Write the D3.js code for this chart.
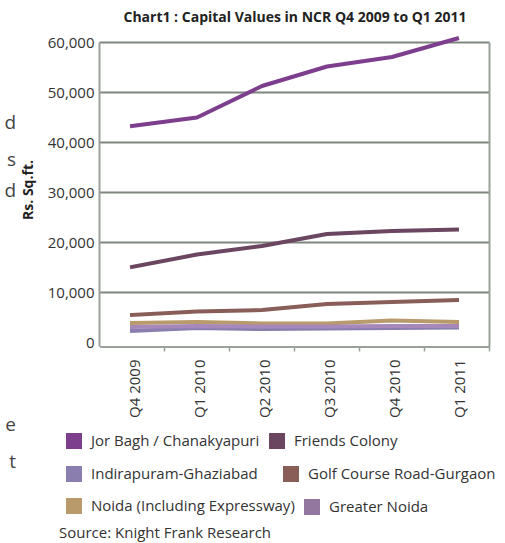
<!DOCTYPE html>
<html>
<head>
<meta charset="utf-8">
<script src="https://cdn.jsdelivr.net/npm/d3@7"></script>
<style>
  html, body { margin: 0; padding: 0; background: #fff; }
  svg { display: block; }
</style>
</head>
<body>
<svg id="chart" width="505" height="543"></svg>
<script>
const categories = ["Q4 2009", "Q1 2010", "Q2 2010", "Q3 2010", "Q4 2010", "Q1 2011"];
const seriesNames = ["Jor Bagh / Chanakyapuri", "Friends Colony", "Indirapuram-Ghaziabad", "Golf Course Road-Gurgaon", "Noida (Including Expressway)", "Greater Noida"];
const jorBagh = [43300, 45000, 51300, 55200, 57100, 60800];
const friendsColony = [15100, 17600, 19300, 21700, 22300, 22600];
const indirapuram = [2300, 2900, 2700, 2800, 2900, 3000];
const golfCourse = [5500, 6200, 6500, 7700, 8100, 8500];
const noida = [3900, 4100, 3800, 3800, 4400, 4100];
const greaterNoida = [3100, 3300, 3200, 3200, 3300, 3300];
const yTicks = [0, 10000, 20000, 30000, 40000, 50000, 60000];
const colors = ["#7d3e8e", "#6a4660", "#8a7eae", "#8a5e58", "#b99a6b", "#a688bb"];
const legendColors = ["#7d3e8e", "#6a4660", "#8a7eae", "#8a5e58", "#b99a6b", "#93779f"];
const seriesValues = [jorBagh, friendsColony, indirapuram, golfCourse, noida, greaterNoida];

(function () {
const svg = d3.select("#chart");
const font = "'Open Sans', 'Noto Sans', sans-serif";
const pL = 99.5, pR = 489.5, pT = 42.5, pB = 342.5;

const x = d3.scaleBand().domain(categories).range([pL, pR]);
const y = d3.scaleLinear().domain([0, 60000]).range([pB, pT]);

// page fragments at the left
const frag = [["d", 129], ["s", 166], ["d", 197], ["e", 431], ["t", 468]];
svg.selectAll("text.frag").data(frag).join("text")
  .attr("class", "frag")
  .attr("x", 16).attr("y", d => d[1])
  .attr("text-anchor", "end")
  .attr("font-family", font).attr("font-size", 19).attr("fill", "#444")
  .text(d => d[0]);

// title
svg.append("text")
  .attr("x", 295).attr("y", 22)
  .attr("text-anchor", "middle")
  .attr("font-family", font).attr("font-weight", "bold").attr("font-size", 14)
  .attr("fill", "#222")
  .text("Chart1 : Capital Values in NCR Q4 2009 to Q1 2011");

// gridlines
svg.append("g").selectAll("line").data(yTicks.filter(d => d > 0)).join("line")
  .attr("x1", pL).attr("x2", pR)
  .attr("y1", d => y(d)).attr("y2", d => y(d))
  .attr("stroke", "#7e867e").attr("stroke-width", 2);

// right border
svg.append("line").attr("x1", pR).attr("x2", pR).attr("y1", pT).attr("y2", pB + 4)
  .attr("stroke", "#9aa09a").attr("stroke-width", 2);

// y axis
const yAxis = svg.append("g").attr("transform", `translate(${pL},0)`)
  .call(d3.axisLeft(y).tickValues(yTicks).tickSize(0).tickPadding(5).tickFormat(d3.format(",")));
yAxis.select(".domain").remove();
yAxis.append("line").attr("x1", 0).attr("x2", 0).attr("y1", pT).attr("y2", pB + 4)
  .attr("stroke", "#9aa09a").attr("stroke-width", 2);
yAxis.selectAll("text").attr("font-family", font).attr("font-size", 15).attr("fill", "#333");

// x axis
const xAxis = svg.append("g").attr("transform", `translate(0,${pB + 4})`)
  .call(d3.axisBottom(x).tickSize(0).tickFormat(""));
xAxis.select(".domain").attr("stroke", "#9aa09a").attr("stroke-width", 2);
xAxis.selectAll(".tick").remove();
svg.append("g").selectAll("line").data(categories).join("line")
  .attr("x1", d => x(d) + x.bandwidth()).attr("x2", d => x(d) + x.bandwidth())
  .attr("y1", pB + 4).attr("y2", pB + 9)
  .attr("stroke", "#9aa09a").attr("stroke-width", 1.5);
svg.append("g").selectAll("text").data(categories).join("text")
  .attr("transform", d => `translate(${x(d) + x.bandwidth() / 2 + 8},${pB + 17}) rotate(-90)`)
  .attr("text-anchor", "end")
  .attr("font-family", font).attr("font-size", 15).attr("fill", "#333")
  .text(d => d);

// y axis title
svg.append("text")
  .attr("transform", `translate(33,190) rotate(-90)`)
  .attr("text-anchor", "middle")
  .attr("font-family", font).attr("font-weight", "bold").attr("font-size", 14).attr("fill", "#222")
  .text("Rs. Sq.ft.");

// lines
const line = d3.line().x((d, i) => x(categories[i]) + x.bandwidth() / 2).y(d => y(d));
const drawOrder = [3, 4, 2, 5, 1, 0];
svg.append("g").selectAll("path").data(drawOrder).join("path")
  .attr("d", i => line(seriesValues[i]))
  .attr("fill", "none")
  .attr("stroke", i => colors[i])
  .attr("stroke-width", 4)
  .attr("stroke-linejoin", "round")
  .attr("stroke-linecap", "square");

// legend
const legendItems = [
  {i: 0, x: 66, y: 441}, {i: 1, x: 269, y: 441},
  {i: 2, x: 66, y: 474}, {i: 3, x: 283, y: 474},
  {i: 4, x: 66, y: 506}, {i: 5, x: 304, y: 507}
];
const lg = svg.append("g").selectAll("g").data(legendItems).join("g")
  .attr("transform", d => `translate(${d.x},${d.y})`);
lg.append("rect").attr("x", 0).attr("y", -8).attr("width", 16).attr("height", 16)
  .attr("fill", d => legendColors[d.i]);
lg.append("text").attr("x", 25).attr("y", 5)
  .attr("font-family", font).attr("font-size", 15).attr("fill", "#333")
  .text(d => seriesNames[d.i]);

svg.append("text").attr("x", 59).attr("y", 538)
  .attr("font-family", font).attr("font-size", 15).attr("fill", "#333")
  .text("Source: Knight Frank Research");
})();
</script>
</body>
</html>
